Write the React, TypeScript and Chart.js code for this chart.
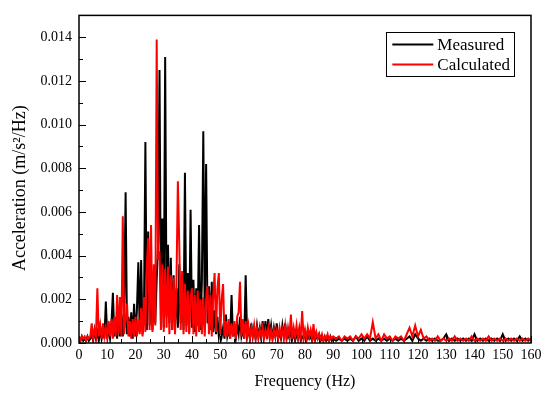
import React, { useEffect, useRef } from "react";
import { Chart, registerables } from "chart.js";

Chart.register(...registerables);

// ---------------- data ----------------
const SERIES_LABELS = ["Measured", "Calculated"];
const SERIES_COLORS = ["#000000", "#ff0000"];

// frequency grid: 0–90 Hz every 0.5 Hz, 91–160 Hz every 1 Hz
const LOW_BAND_START = 0;
const LOW_BAND_STEP = 0.5;
const HIGH_BAND_START = 91;
const HIGH_BAND_STEP = 1;

// Measured, 0–90 Hz (0.5 Hz steps)
const MEASURED_LOW = [
  0.0002, 0.0001, 0.0003, 0.0001, 0.0002, 0.0001, 0.0003, 0.0001, 0.0002, 0.0004,
  0.0001, 0.0006, 0.0002, 0.0005, 0.0001, 0.0007, 0.0002, 0.0006, 0.0002, 0.0019,
  0.0002, 0.0007, 0.0002, 0.0009, 0.0023, 0.0003, 0.0011, 0.0002, 0.0012, 0.0003,
  0.0013, 0.0003, 0.0016, 0.0069, 0.0004, 0.0012, 0.0003, 0.0014, 0.0002, 0.0018,
  0.0003, 0.0015, 0.0037, 0.0005, 0.0038, 0.0004, 0.0014, 0.0092, 0.0006, 0.0051,
  0.0008, 0.0030, 0.0006, 0.0024, 0.0009, 0.0029, 0.0046, 0.0125, 0.0010, 0.0057,
  0.0007, 0.0131, 0.0012, 0.0045, 0.0009, 0.0039, 0.0006, 0.0031, 0.0008, 0.0025,
  0.0007, 0.0036, 0.0009, 0.0027, 0.0006, 0.0078, 0.0008, 0.0032, 0.0005, 0.0061,
  0.0007, 0.0029, 0.0005, 0.0025, 0.0008, 0.0054, 0.0006, 0.0028, 0.0097, 0.0012,
  0.0082, 0.0009, 0.0026, 0.0006, 0.0028, 0.0005, 0.0015, 0.0004, 0.0012, 0.0003,
  0.0008, 0.0003, 0.0007, 0.0002, 0.0013, 0.0003, 0.0006, 0.0002, 0.0022, 0.0003,
  0.0007, 0.0002, 0.0008, 0.0004, 0.0012, 0.0003, 0.0006, 0.0002, 0.0031, 0.0003,
  0.0006, 0.0002, 0.0009, 0.0003, 0.0007, 0.0002, 0.0008, 0.0003, 0.0007, 0.0002,
  0.0010, 0.0003, 0.0010, 0.0002, 0.0011, 0.0003, 0.0008, 0.0002, 0.0007, 0.0003,
  0.0009, 0.0002, 0.0005, 0.0002, 0.0008, 0.0003, 0.0009, 0.0002, 0.0004, 0.0002,
  0.0006, 0.0002, 0.0005, 0.0001, 0.0004, 0.0002, 0.0006, 0.0001, 0.0003, 0.0002,
  0.0005, 0.0001, 0.0004, 0.0002, 0.0003, 0.0001, 0.0005, 0.0001, 0.0003, 0.0002,
  0.0004, 0.0001, 0.0002, 0.0001, 0.0003, 0.0001, 0.0002, 0.0001, 0.0003, 0.0001,
  0.0002,
];

// Measured, 91–160 Hz (1 Hz steps)
const MEASURED_HIGH = [
  0.0001, 0.0002, 0.0001, 0.0002, 0.0001, 0.0002, 0.0001, 0.0003, 0.0001, 0.0002,
  0.0001, 0.0003, 0.0001, 0.0002, 0.0001, 0.0002, 0.0001, 0.0002, 0.0001, 0.0002,
  0.0001, 0.0002, 0.0001, 0.0002, 0.0001, 0.0002, 0.0003, 0.0001, 0.0004, 0.0002,
  0.0001, 0.0002, 0.0001, 0.0002, 0.0001, 0.0002, 0.0001, 0.0001, 0.0002, 0.0004,
  0.0001, 0.0002, 0.0001, 0.0002, 0.0001, 0.0002, 0.0001, 0.0002, 0.0001, 0.0004,
  0.0001, 0.0002, 0.0001, 0.0002, 0.0001, 0.0002, 0.0001, 0.0002, 0.0001, 0.0004,
  0.0001, 0.0002, 0.0001, 0.0002, 0.0001, 0.0003, 0.0001, 0.0002, 0.0001, 0.0002,
];

// Calculated, 0–90 Hz (0.5 Hz steps)
const CALCULATED_LOW = [
  0.0003, 0.0001, 0.0003, 0.0002, 0.0003, 0.0001, 0.0003, 0.0002, 0.0003, 0.0009,
  0.0002, 0.0006, 0.0003, 0.0025, 0.0003, 0.0008, 0.0002, 0.0009, 0.0003, 0.0007,
  0.0002, 0.0010, 0.0003, 0.0011, 0.0002, 0.0012, 0.0003, 0.0022, 0.0004, 0.0021,
  0.0003, 0.0058, 0.0004, 0.0011, 0.0018, 0.0003, 0.0010, 0.0002, 0.0011, 0.0003,
  0.0012, 0.0003, 0.0011, 0.0004, 0.0016, 0.0003, 0.0021, 0.0005, 0.0035, 0.0048,
  0.0006, 0.0054, 0.0005, 0.0036, 0.0008, 0.0139, 0.0038, 0.0042, 0.0006, 0.0036,
  0.0005, 0.0034, 0.0007, 0.0035, 0.0004, 0.0031, 0.0006, 0.0030, 0.0004, 0.0028,
  0.0074, 0.0045, 0.0006, 0.0033, 0.0004, 0.0027, 0.0005, 0.0024, 0.0004, 0.0021,
  0.0025, 0.0004, 0.0022, 0.0003, 0.0024, 0.0005, 0.0020, 0.0004, 0.0021, 0.0003,
  0.0019, 0.0026, 0.0004, 0.0022, 0.0003, 0.0021, 0.0032, 0.0005, 0.0025, 0.0032,
  0.0004, 0.0020, 0.0027, 0.0003, 0.0010, 0.0003, 0.0011, 0.0002, 0.0009, 0.0003,
  0.0010, 0.0002, 0.0012, 0.0014, 0.0028, 0.0003, 0.0011, 0.0002, 0.0010, 0.0003,
  0.0008, 0.0002, 0.0007, 0.0003, 0.0008, 0.0002, 0.0007, 0.0002, 0.0006, 0.0003,
  0.0007, 0.0002, 0.0006, 0.0003, 0.0007, 0.0002, 0.0006, 0.0002, 0.0006, 0.0003,
  0.0006, 0.0002, 0.0007, 0.0003, 0.0006, 0.0002, 0.0008, 0.0002, 0.0007, 0.0003,
  0.0013, 0.0002, 0.0007, 0.0003, 0.0008, 0.0002, 0.0007, 0.0003, 0.00146, 0.0002,
  0.0006, 0.0002, 0.0007, 0.0003, 0.0006, 0.0002, 0.00086, 0.0002, 0.0005, 0.0002,
  0.0004, 0.0002, 0.0004, 0.0001, 0.0003, 0.0002, 0.0004, 0.0001, 0.0003, 0.0002,
  0.0003,
];

// Calculated, 91–160 Hz (1 Hz steps)
const CALCULATED_HIGH = [
  0.0002, 0.0003, 0.0001, 0.0003, 0.0002, 0.0003, 0.0001, 0.0003, 0.0002, 0.0004,
  0.0002, 0.0004, 0.0002, 0.00095, 0.0002, 0.0004, 0.0001, 0.0004, 0.0002, 0.0003,
  0.0001, 0.0003, 0.0002, 0.0003, 0.0001, 0.0004, 0.0007, 0.0003, 0.0008, 0.0003,
  0.0006, 0.0002, 0.0003, 0.0001, 0.0002, 0.0001, 0.0003, 0.0001, 0.0002, 0.0001,
  0.0002, 0.0001, 0.0003, 0.0001, 0.0002, 0.0001, 0.0002, 0.0001, 0.0003, 0.0001,
  0.0002, 0.0001, 0.0002, 0.0001, 0.0003, 0.0001, 0.0002, 0.0001, 0.0002, 0.0001,
  0.0002, 0.0001, 0.0002, 0.0001, 0.0002, 0.0001, 0.0002, 0.0001, 0.0002, 0.0001,
];

const X_TICKS = [0, 10, 20, 30, 40, 50, 60, 70, 80, 90, 100, 110, 120, 130, 140, 150, 160];
const Y_TICKS = [0, 0.002, 0.004, 0.006, 0.008, 0.01, 0.012, 0.014];
const X_MIN = 0;
const X_MAX = 160;
const Y_MIN = 0;
const Y_MAX = 0.015;

const X_TITLE = "Frequency (Hz)";
const Y_TITLE = "Acceleration (m/s\u00B2/Hz)";

const FONT_FAMILY = '"Liberation Serif", "Times New Roman", serif';

function buildSeries(low: number[], high: number[]) {
  const pts: { x: number; y: number }[] = [];
  low.forEach((v, i) => pts.push({ x: LOW_BAND_START + i * LOW_BAND_STEP, y: v }));
  high.forEach((v, i) => pts.push({ x: HIGH_BAND_START + i * HIGH_BAND_STEP, y: v }));
  return pts;
}

function midpoints(arr: number[], upper: number) {
  const out: number[] = [];
  for (let i = 0; i < arr.length; i++) {
    const next = i + 1 < arr.length ? arr[i + 1] : arr[i] + (arr[1] - arr[0]);
    const m = (arr[i] + next) / 2;
    if (m <= upper + 1e-12) out.push(m);
  }
  return out;
}

const framePlugin = {
  id: "frameAndLegend",
  beforeDatasetsDraw(chart: any) {
    const { ctx, chartArea: a, scales } = chart;
    const xs = scales.x;
    const ys = scales.y;
    ctx.save();
    ctx.strokeStyle = "#000";
    ctx.lineWidth = 1;
    ctx.beginPath();
    X_TICKS.forEach((v) => {
      const px = Math.round(xs.getPixelForValue(v)) + 0.5;
      ctx.moveTo(px, a.bottom);
      ctx.lineTo(px, a.bottom - 7);
    });
    midpoints(X_TICKS, X_MAX).forEach((v) => {
      const px = Math.round(xs.getPixelForValue(v)) + 0.5;
      ctx.moveTo(px, a.bottom);
      ctx.lineTo(px, a.bottom - 4);
    });
    Y_TICKS.forEach((v) => {
      const py = Math.round(ys.getPixelForValue(v)) + 0.5;
      ctx.moveTo(a.left, py);
      ctx.lineTo(a.left + 7, py);
    });
    midpoints(Y_TICKS, Y_MAX).forEach((v) => {
      const py = Math.round(ys.getPixelForValue(v)) + 0.5;
      ctx.moveTo(a.left, py);
      ctx.lineTo(a.left + 4, py);
    });
    ctx.stroke();
    ctx.restore();
  },
  afterDatasetsDraw(chart: any) {
    const { ctx, chartArea: a } = chart;
    ctx.save();
    ctx.strokeStyle = "#000";
    ctx.lineWidth = 1.5;
    ctx.strokeRect(a.left, a.top, a.right - a.left, a.bottom - a.top);

    // legend box (top-right, inside the plot)
    const ds = chart.data.datasets;
    ctx.font = `17px ${FONT_FAMILY}`;
    let maxW = 0;
    ds.forEach((d: any) => {
      maxW = Math.max(maxW, ctx.measureText(d.label).width);
    });
    const lineLen = 41;
    const boxW = 6 + lineLen + 4 + maxW + 4;
    const rowH = 20;
    const boxH = 4 + rowH * ds.length;
    const right = a.right - 17;
    const top = a.top + 17;
    const left = right - boxW;
    ctx.lineWidth = 1;
    ctx.strokeStyle = "#000";
    ctx.strokeRect(Math.round(left) + 0.5, Math.round(top) + 0.5, Math.round(boxW), Math.round(boxH));
    ds.forEach((d: any, i: number) => {
      const cy = top + 12 + i * rowH;
      ctx.strokeStyle = d.borderColor;
      ctx.lineWidth = 2;
      ctx.beginPath();
      ctx.moveTo(left + 6, cy);
      ctx.lineTo(left + 6 + lineLen, cy);
      ctx.stroke();
      ctx.fillStyle = "#000";
      ctx.textBaseline = "middle";
      ctx.textAlign = "left";
      ctx.fillText(d.label, left + 6 + lineLen + 4, cy + 1);
    });
    ctx.restore();
  },
};

export default function App() {
  const canvasRef = useRef<HTMLCanvasElement | null>(null);

  useEffect(() => {
    const canvas = canvasRef.current;
    if (!canvas) return;
    const chart = new Chart(canvas, {
      type: "line",
      data: {
        datasets: [
          {
            label: SERIES_LABELS[0],
            data: buildSeries(MEASURED_LOW, MEASURED_HIGH),
            borderColor: SERIES_COLORS[0],
            backgroundColor: SERIES_COLORS[0],
            borderWidth: 2,
            pointRadius: 0,
            fill: false,
            order: 2,
          },
          {
            label: SERIES_LABELS[1],
            data: buildSeries(CALCULATED_LOW, CALCULATED_HIGH),
            borderColor: SERIES_COLORS[1],
            backgroundColor: SERIES_COLORS[1],
            borderWidth: 2,
            pointRadius: 0,
            fill: false,
            order: 1,
          },
        ],
      },
      options: {
        responsive: false,
        animation: false,
        events: [],
        layout: { padding: { top: 10, right: 19, left: 0, bottom: 0 } },
        elements: { line: { tension: 0, borderJoinStyle: "miter" } },
        plugins: {
          legend: { display: false },
          tooltip: { enabled: false },
        },
        scales: {
          x: {
            type: "linear",
            min: X_MIN,
            max: X_MAX,
            grid: { display: false, drawTicks: false },
            border: { display: false },
            afterBuildTicks: (axis: any) => {
              axis.ticks = X_TICKS.map((value) => ({ value }));
            },
            afterFit: (axis: any) => {
              axis.height = 53;
            },
            ticks: {
              autoSkip: false,
              maxRotation: 0,
              minRotation: 0,
              padding: 4,
              color: "#000",
              font: { family: FONT_FAMILY, size: 14 },
              callback: (v: any) => String(v),
            },
            title: {
              display: true,
              text: X_TITLE,
              color: "#000",
              font: { family: FONT_FAMILY, size: 16, lineHeight: 1.2 },
              padding: { top: 0, bottom: 5 },
            },
          },
          y: {
            type: "linear",
            min: Y_MIN,
            max: Y_MAX,
            grid: { display: false, drawTicks: false },
            border: { display: false },
            afterBuildTicks: (axis: any) => {
              axis.ticks = Y_TICKS.map((value) => ({ value }));
            },
            afterFit: (axis: any) => {
              axis.width = 79;
            },
            ticks: {
              padding: 7,
              color: "#000",
              font: { family: FONT_FAMILY, size: 14 },
              callback: (v: any) => Number(v).toFixed(3),
            },
            title: {
              display: true,
              text: Y_TITLE + "    ",
              color: "#000",
              font: { family: FONT_FAMILY, size: 18, lineHeight: 1.2 },
              padding: { top: 9, bottom: 0 },
            },
          },
        },
      },
      plugins: [framePlugin],
    } as any);
    return () => chart.destroy();
  }, []);

  return (
    <div style={{ position: "fixed", left: 0, top: 0, width: 550, height: 396, background: "#fff" }}>
      <canvas ref={canvasRef} width={550} height={396} style={{ display: "block", width: 550, height: 396 }} />
    </div>
  );
}
